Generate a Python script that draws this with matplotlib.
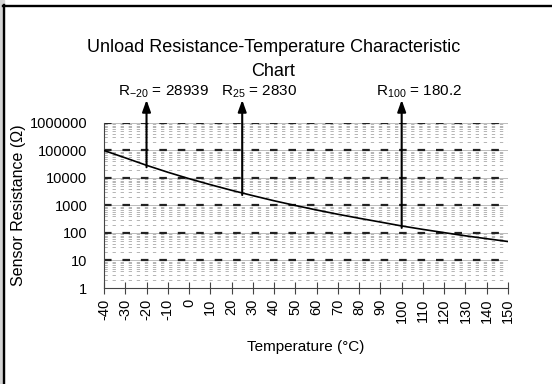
import matplotlib
matplotlib.use("Agg")
import matplotlib.pyplot as plt
import matplotlib.ticker as ticker
from matplotlib.lines import Line2D
import numpy as np

# R-T table of the NTC sensor, one point every 10 degC
temps = [-40, -30, -20, -10, 0, 10, 20, 30, 40, 50, 60, 70, 80, 90, 100,
         110, 120, 130, 140, 150]
resist = [100000, 54100, 28939, 16200, 9450, 5720, 3570, 2280, 1485, 1000,
          686, 480, 344, 250, 180.2, 135, 103, 79, 62, 49]

# reference points marked with arrows
mark_temps = [-20, 25, 100]
mark_values = [28939, 2830, 180.2]
mark_labels = ["R$_{\\mathregular{-20}}$ = 28939",
               "R$_{\\mathregular{25}}$ = 2830",
               "R$_{\\mathregular{100}}$ = 180.2"]

y_ticks = [1, 10, 100, 1000, 10000, 100000, 1000000]

plt.rcParams["font.family"] = ["Liberation Sans", "DejaVu Sans"]
plt.rcParams["mathtext.fontset"] = "custom"
plt.rcParams["mathtext.rm"] = "Liberation Sans"

fig = plt.figure(figsize=(5.52, 3.84), dpi=100)
ax = fig.add_axes([0.1884, 0.25, 0.7319, 0.4297])

ax.plot(temps, resist, color="black", lw=1.2, zorder=4)

ax.set_yscale("log")
ax.set_ylim(1, 1000000)
ax.set_xlim(-40, 150)
ax.set_yticks(y_ticks)
ax.yaxis.set_major_formatter(ticker.FuncFormatter(lambda v, _: "%d" % v))
ax.yaxis.set_minor_locator(ticker.LogLocator(base=10, subs=range(2, 10)))
ax.yaxis.set_minor_formatter(ticker.NullFormatter())
ax.set_xticks(np.arange(-40, 151, 10))
ax.set_xticklabels([str(t) for t in range(-40, 151, 10)], rotation=90)

ax.tick_params(axis="y", which="both", length=0, pad=12, labelsize=10.5)
ax.tick_params(axis="x", direction="inout", length=9, width=0.8,
               color="#444444", pad=3, labelsize=10.5)

# dashed horizontal grid
for yv in y_ticks[1:]:
    ax.axhline(yv, color="#bbbbbb", lw=0.7, zorder=1)
    ax.axhline(yv, color="#222222", lw=1.6, ls=(0, (3.4, 4.9)), zorder=2)
for dec in [1, 10, 100, 1000, 10000, 100000]:
    for k in range(2, 10):
        ax.axhline(dec * k, color="#b4b4b4", lw=0.7, ls=(0, (3.4, 4.9)),
                   zorder=1)

for side in ["top", "right"]:
    ax.spines[side].set_visible(False)
ax.spines["bottom"].set_color("#444444")
ax.spines["left"].set_color("#444444")
ax.spines["left"].set_linewidth(0.8)

# arrows from the curve up past the plot area
for t, r, lab in zip(mark_temps, mark_values, mark_labels):
    ax.annotate("", xy=(t, 1.14), xycoords=("data", "axes fraction"),
                xytext=(t, r * 0.85), textcoords="data",
                arrowprops=dict(arrowstyle="-|>,head_length=0.7,head_width=0.25",
                                color="black", lw=1.5, shrinkA=0, shrinkB=0),
                annotation_clip=False, zorder=5)
    ax.annotate(lab, xy=(t, 1.19), xycoords=("data", "axes fraction"),
                xytext=(17, 0), textcoords="offset pixels",
                ha="center", va="center", fontsize=11,
                annotation_clip=False)

ax.set_xlabel("Temperature (°C)", fontsize=11, labelpad=12)
ax.set_ylabel("Sensor Resistance (\u03a9)", fontsize=11.5, labelpad=3)

fig.text(0.495, 0.845, "Unload Resistance-Temperature Characteristic\nChart",
         ha="center", va="center", fontsize=13, linespacing=1.55)

# frame around the chart (top and left edges)
fig.patches.append(plt.Rectangle((0, 0), 4 / 552, 1, transform=fig.transFigure,
                                 color="#d4d4d4", zorder=0))
fig.add_artist(Line2D([4 / 552, 4 / 552], [0, 1 - 5 / 384],
                      transform=fig.transFigure, color="black", lw=1.7))
fig.add_artist(Line2D([3 / 552, 1], [1 - 6 / 384, 1 - 6 / 384],
                      transform=fig.transFigure, color="black", lw=1.7))

fig.savefig("out.png", dpi=100)
